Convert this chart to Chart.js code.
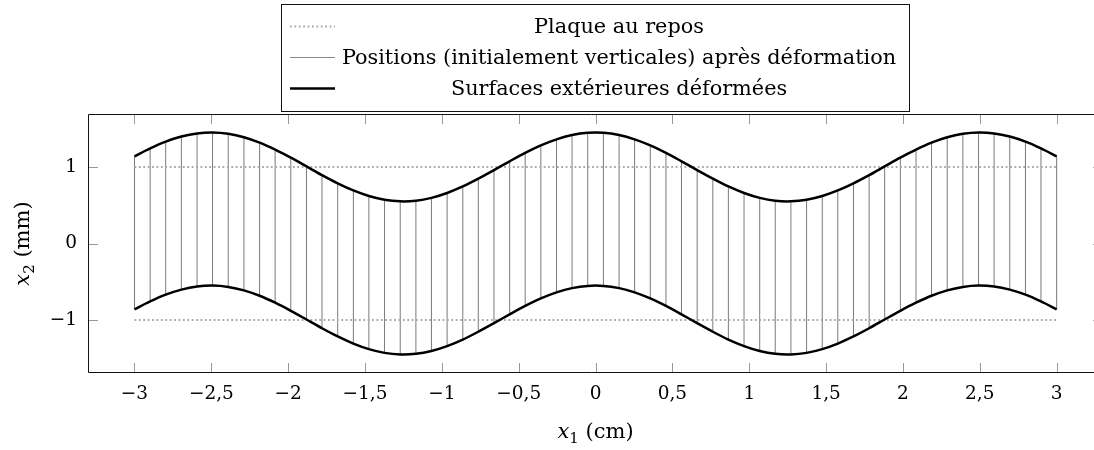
<!DOCTYPE html>
<html>
<head>
<meta charset="utf-8">
<script src="https://cdn.jsdelivr.net/npm/chart.js@4.4.0/dist/chart.umd.min.js"></script>
<style>
  body { margin: 0; background: #fff; }
  #plate { display: block; }
</style>
</head>
<body>
<canvas id="plate" width="1094" height="450"></canvas>
<script>
// positions along the plate (x1, cm)
const xPositions = [
  -3.000, -2.898, -2.797, -2.695, -2.593, -2.492, -2.390, -2.288, -2.186, -2.085,
  -1.983, -1.881, -1.780, -1.678, -1.576, -1.475, -1.373, -1.271, -1.169, -1.068,
  -0.966, -0.864, -0.763, -0.661, -0.559, -0.458, -0.356, -0.254, -0.153, -0.051,
   0.051,  0.153,  0.254,  0.356,  0.458,  0.559,  0.661,  0.763,  0.864,  0.966,
   1.068,  1.169,  1.271,  1.373,  1.475,  1.576,  1.678,  1.780,  1.881,  1.983,
   2.085,  2.186,  2.288,  2.390,  2.492,  2.593,  2.695,  2.797,  2.898,  3.000
];
// deformed upper surface (x2, mm)
const topSurface = [
  1.139, 1.243, 1.331, 1.397, 1.438, 1.450, 1.433, 1.388, 1.317, 1.226,
  1.121, 1.007, 0.893, 0.786, 0.693, 0.620, 0.571, 0.551, 0.559, 0.596,
  0.660, 0.745, 0.847, 0.959, 1.074, 1.184, 1.282, 1.361, 1.417, 1.446,
  1.446, 1.417, 1.361, 1.282, 1.184, 1.074, 0.959, 0.847, 0.745, 0.660,
  0.596, 0.559, 0.551, 0.571, 0.620, 0.693, 0.786, 0.893, 1.007, 1.121,
  1.226, 1.317, 1.388, 1.433, 1.450, 1.438, 1.397, 1.331, 1.243, 1.139
];
// deformed lower surface (x2, mm)
const bottomSurface = [
  -0.861, -0.757, -0.669, -0.603, -0.562, -0.550, -0.567, -0.612, -0.683, -0.774,
  -0.879, -0.993, -1.107, -1.214, -1.307, -1.380, -1.429, -1.449, -1.441, -1.404,
  -1.340, -1.255, -1.153, -1.041, -0.926, -0.816, -0.718, -0.639, -0.583, -0.554,
  -0.554, -0.583, -0.639, -0.718, -0.816, -0.926, -1.041, -1.153, -1.255, -1.340,
  -1.404, -1.441, -1.449, -1.429, -1.380, -1.307, -1.214, -1.107, -0.993, -0.879,
  -0.774, -0.683, -0.612, -0.567, -0.550, -0.562, -0.603, -0.669, -0.757, -0.861
];
// plate at rest
const restLevels = [1, -1];
const restSpan = [-3, 3];

const xTicks = [-3, -2.5, -2, -1.5, -1, -0.5, 0, 0.5, 1, 1.5, 2, 2.5, 3];
const yTicks = [-1, 0, 1];

const legendLabels = [
  'Plaque au repos',
  'Positions (initialement verticales) après déformation',
  'Surfaces extérieures déformées'
];

const FONT = '"DejaVu Serif", serif';
const TICK_SIZE = 18.5;
const LEGEND_SIZE = 20.8;
const TITLE_SIZE = 21;

// axis limits (right side of the frame is cut off by the picture edge)
const X_MIN = -3.3025, X_MAX = 3.243, X_FRAME_RIGHT = 3.3025;
const Y_MIN = -1.692, Y_MAX = 1.692;

const fmt = v => String(v).replace('.', ',').replace('-', '\u2212');

// --- datasets ---
const verticalPoints = [];
xPositions.forEach((x, i) => {
  verticalPoints.push({ x, y: bottomSurface[i] }, { x, y: topSurface[i] }, { x, y: null });
});

const restPoints = [];
restLevels.forEach(level => {
  restPoints.push({ x: restSpan[0], y: level }, { x: restSpan[1], y: level }, { x: restSpan[1], y: null });
});

const toPoints = ys => xPositions.map((x, i) => ({ x, y: ys[i] }));

// --- legend, frame, inner ticks and axis titles ---
function drawTitle(ctx, x, y, sub, unit, rotate) {
  ctx.save();
  ctx.translate(x, y);
  if (rotate) ctx.rotate(-Math.PI / 2);
  ctx.fillStyle = '#000';
  ctx.textBaseline = 'alphabetic';
  const main = `italic ${TITLE_SIZE}px ${FONT}`;
  const small = `${Math.round(TITLE_SIZE * 0.7)}px ${FONT}`;
  const plain = `${TITLE_SIZE}px ${FONT}`;
  ctx.font = main; const w1 = ctx.measureText('x').width;
  ctx.font = small; const w2 = ctx.measureText(sub).width;
  ctx.font = plain; const w3 = ctx.measureText(' (' + unit + ')').width;
  let cx = -(w1 + w2 + w3) / 2;
  const base = 6;
  ctx.textAlign = 'left';
  ctx.font = main; ctx.fillText('x', cx, base); cx += w1;
  ctx.font = small; ctx.fillText(sub, cx, base + 5); cx += w2;
  ctx.font = plain; ctx.fillText(' (' + unit + ')', cx, base);
  ctx.restore();
}

const decorPlugin = {
  id: 'decor',
  afterDraw(chart) {
    const { ctx, chartArea: a, scales } = chart;
    const xs = scales.x, ys = scales.y;
    const right = xs.getPixelForValue(X_FRAME_RIGHT);

    // inner ticks
    ctx.save();
    ctx.strokeStyle = '#9a9a9a';
    ctx.lineWidth = 1;
    ctx.beginPath();
    xTicks.forEach(v => {
      const px = Math.round(xs.getPixelForValue(v)) + 0.5;
      ctx.moveTo(px, a.bottom); ctx.lineTo(px, a.bottom - 10);
      ctx.moveTo(px, a.top); ctx.lineTo(px, a.top + 10);
    });
    yTicks.forEach(v => {
      const py = Math.round(ys.getPixelForValue(v)) + 0.5;
      ctx.moveTo(a.left, py); ctx.lineTo(a.left + 10, py);
      ctx.moveTo(right, py); ctx.lineTo(right - 10, py);
    });
    ctx.stroke();

    // frame
    ctx.strokeStyle = '#111';
    ctx.beginPath();
    ctx.moveTo(right, a.top + 0.5); ctx.lineTo(a.left + 0.5, a.top + 0.5);
    ctx.lineTo(a.left + 0.5, a.bottom - 0.5); ctx.lineTo(right, a.bottom - 0.5);
    ctx.stroke();
    ctx.restore();

    // axis titles
    drawTitle(ctx, (a.left + right) / 2, 432, '1', 'cm', false);
    drawTitle(ctx, 23, (a.top + a.bottom) / 2, '2', 'mm', true);

    // legend box
    const box = { l: 281.5, t: 4.5, r: 909.5, b: 111.5 };
    ctx.save();
    ctx.fillStyle = '#fff';
    ctx.fillRect(box.l, box.t, box.r - box.l, box.b - box.t);
    ctx.strokeStyle = '#111';
    ctx.lineWidth = 1;
    ctx.strokeRect(box.l, box.t, box.r - box.l, box.b - box.t);
    const rows = [28, 59, 90];
    const styles = [
      { color: '#aaa', width: 2, dash: [1.8, 2.6] },
      { color: '#888', width: 1, dash: [] },
      { color: '#000', width: 2.5, dash: [] }
    ];
    const textCenter = 619;
    rows.forEach((y, i) => {
      const s = styles[i];
      ctx.strokeStyle = s.color;
      ctx.lineWidth = s.width;
      ctx.setLineDash(s.dash);
      ctx.beginPath();
      ctx.moveTo(290, y - 1.5); ctx.lineTo(335, y - 1.5);
      ctx.stroke();
      ctx.setLineDash([]);
      ctx.fillStyle = '#000';
      ctx.font = `${LEGEND_SIZE}px ${FONT}`;
      ctx.textAlign = 'center';
      ctx.textBaseline = 'middle';
      ctx.fillText(legendLabels[i], textCenter, y);
    });
    ctx.restore();
  }
};

Chart.defaults.font.family = FONT;
Chart.defaults.font.size = TICK_SIZE;
Chart.defaults.color = '#000';

new Chart(document.getElementById('plate'), {
  type: 'scatter',
  data: {
    datasets: [
      {
        label: legendLabels[2] + ' (haut)',
        data: toPoints(topSurface),
        showLine: true, borderColor: '#000', borderWidth: 2.5,
        pointRadius: 0, tension: 0.3, order: 0
      },
      {
        label: legendLabels[2] + ' (bas)',
        data: toPoints(bottomSurface),
        showLine: true, borderColor: '#000', borderWidth: 2.5,
        pointRadius: 0, tension: 0.3, order: 0
      },
      {
        label: legendLabels[0],
        data: restPoints,
        showLine: true, borderColor: '#aaa', borderWidth: 2,
        borderDash: [1.8, 2.6], pointRadius: 0, spanGaps: false, order: 1
      },
      {
        label: legendLabels[1],
        data: verticalPoints,
        showLine: true, borderColor: '#7a7a7a', borderWidth: 1,
        pointRadius: 0, spanGaps: false, order: 2
      }
    ]
  },
  options: {
    responsive: false,
    animation: false,
    layout: { padding: { top: 114, right: 0, left: 0, bottom: 0 } },
    plugins: { legend: { display: false }, tooltip: { enabled: false } },
    scales: {
      x: {
        type: 'linear', min: X_MIN, max: X_MAX,
        afterBuildTicks: s => { s.ticks = xTicks.map(value => ({ value })); },
        afterFit: s => { s.height = 77; },
        ticks: { callback: fmt, padding: 10, maxRotation: 0, autoSkip: false },
        grid: { display: false, drawTicks: false },
        border: { display: false }
      },
      y: {
        type: 'linear', min: Y_MIN, max: Y_MAX,
        afterBuildTicks: s => { s.ticks = yTicks.map(value => ({ value })); },
        afterFit: s => { s.width = 88; },
        ticks: { callback: fmt, padding: 11 },
        grid: { display: false, drawTicks: false },
        border: { display: false }
      }
    }
  },
  plugins: [decorPlugin]
});
</script>
</body>
</html>
